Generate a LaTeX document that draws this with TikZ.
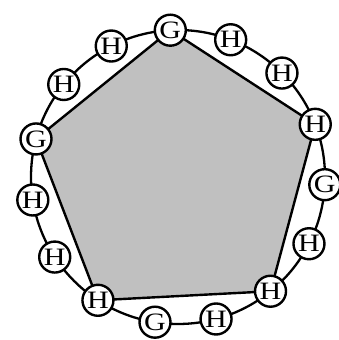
\documentclass[tikz,border=0pt]{standalone}
\usepackage{fontspec}
\setmainfont{Liberation Serif}
\newfontfamily\labfont[FakeStretch=1.2]{Liberation Serif}
\usetikzlibrary{calc}
\definecolor{pentfill}{RGB}{192,192,192}
\tikzset{
  site/.style={circle, draw=black, line width=2.4pt, fill=white, minimum size=31pt, inner sep=0pt, font=\labfont\fontsize{25}{25}\selectfont},
  ring/.style={line width=2.3pt, draw=black},
  pent/.style={line width=2.4pt, draw=black, fill=pentfill, line join=miter}
}
\begin{document}
\begin{tikzpicture}[x=1pt,y=1pt]
\useasboundingbox (0,0) rectangle (338,340);
\coordinate (C) at (178,163);
\draw[ring] (C) circle (147pt);
\foreach \k in {0,...,14} {
  \coordinate (p\k) at ($(C)+({93-24*\k}:147pt)$);
}
\draw[pent] (p0) -- (p3) -- (p6) -- (p9) -- (p12) -- cycle;
\foreach \k/\t in {0/G,1/H,2/H,3/H,4/G,5/H,6/H,7/H,8/G,9/H,10/H,11/H,12/G,13/H,14/H} {
  \node[site] (n\k) at (p\k) {\t};
}
\end{tikzpicture}
\end{document}
